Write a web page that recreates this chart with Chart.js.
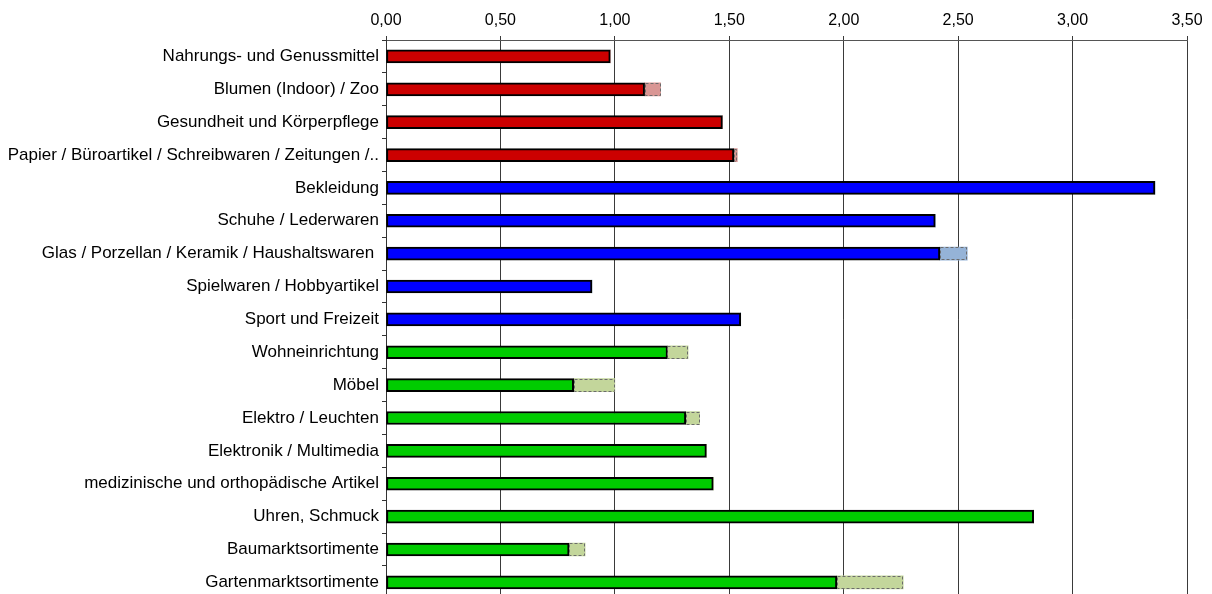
<!DOCTYPE html>
<html lang="de">
<head>
<meta charset="utf-8">
<title>Sortimente</title>
<script src="https://cdn.jsdelivr.net/npm/chart.js@4/dist/chart.umd.min.js"></script>
<style>
  html, body { margin: 0; padding: 0; background: #fff; overflow: hidden; }
  #wrap { width: 1212px; height: 612px; }
</style>
</head>
<body>
<div id="wrap"><canvas id="c" width="1212" height="612"></canvas></div>
<script>
// Sortimente (Reihenfolge von oben nach unten)
const categories = [
  'Nahrungs- und Genussmittel',
  'Blumen (Indoor) / Zoo',
  'Gesundheit und Körperpflege',
  'Papier / Büroartikel / Schreibwaren / Zeitungen /..',
  'Bekleidung',
  'Schuhe / Lederwaren',
  'Glas / Porzellan / Keramik / Haushaltswaren ',
  'Spielwaren / Hobbyartikel',
  'Sport und Freizeit',
  'Wohneinrichtung',
  'Möbel',
  'Elektro / Leuchten',
  'Elektronik / Multimedia',
  'medizinische und orthopädische Artikel',
  'Uhren, Schmuck',
  'Baumarktsortimente',
  'Gartenmarktsortimente'
];

// Hauptwert je Sortiment
const baseValues = [0.98, 1.13, 1.47, 1.52, 3.36, 2.40, 2.42, 0.90, 1.55,
                    1.23, 0.82, 1.31, 1.40, 1.43, 2.83, 0.80, 1.97];

// Zusätzlicher Spielraum (gestrichelt dargestellt)
const extraValues = [0, 0.07, 0, 0.015, 0, 0, 0.12, 0, 0,
                     0.09, 0.18, 0.06, 0, 0, 0, 0.07, 0.29];

// Gruppenzuordnung: 0 = rot, 1 = blau, 2 = grün
const groups = [0, 0, 0, 0, 1, 1, 1, 1, 1, 2, 2, 2, 2, 2, 2, 2, 2];

const tickLabels = ['0,00', '0,50', '1,00', '1,50', '2,00', '2,50', '3,00', '3,50'];

const mainColors  = ['#CC0000', '#0000FF', '#00CC00'];
const extraColors = ['#D99694', '#95B3D7', '#C3D69B'];

// Gestrichelter Rahmen für die Zusatzbalken
const dashedBorder = {
  id: 'dashedBorder',
  afterDatasetsDraw(chart) {
    const ctx = chart.ctx;
    const meta = chart.getDatasetMeta(1);
    ctx.save();
    ctx.setLineDash([3, 2]);
    ctx.lineWidth = 1;
    ctx.strokeStyle = '#6b6b6b';
    meta.data.forEach((el, i) => {
      if (!extraValues[i]) return;
      const p = el.getProps(['x', 'y', 'base', 'height'], true);
      const left = Math.min(p.x, p.base), right = Math.max(p.x, p.base);
      const top = p.y - p.height / 2;
      ctx.strokeRect(Math.round(left) + 0.5, Math.round(top) + 0.5,
                     Math.round(right - left) - 1, Math.round(p.height) - 1);
    });
    ctx.restore();
  }
};

new Chart(document.getElementById('c'), {
  type: 'bar',
  data: {
    labels: categories,
    datasets: [
      {
        data: baseValues,
        backgroundColor: groups.map(g => mainColors[g]),
        borderColor: '#000',
        borderWidth: 2,
        borderSkipped: false,
        barThickness: 13
      },
      {
        data: extraValues,
        backgroundColor: groups.map(g => extraColors[g]),
        borderWidth: 0,
        barThickness: 13
      }
    ]
  },
  options: {
    indexAxis: 'y',
    responsive: false,
    animation: false,
    devicePixelRatio: 1,
    layout: { padding: { top: 0, right: 25, bottom: 0, left: 0 } },
    plugins: { legend: { display: false }, tooltip: { enabled: false } },
    scales: {
      x: {
        position: 'top',
        stacked: true,
        min: 0,
        max: 3.5,
        afterFit(scale) { scale.height = 40; },
        afterBuildTicks(scale) {
          scale.ticks = tickLabels.map((t, i) => ({ value: i * 0.5 }));
        },
        ticks: {
          stepSize: 0.5,
          color: '#000',
          padding: 6,
          font: { family: '"Liberation Sans", Arial, sans-serif', size: 16 },
          callback: (v, i) => tickLabels[i]
        },
        grid: { color: '#3a3a3a', lineWidth: 1, tickLength: 4 },
        border: { color: '#555', width: 1 }
      },
      y: {
        stacked: true,
        afterFit(scale) { scale.width = 386; },
        ticks: {
          color: '#000',
          padding: 3,
          font: { family: '"Liberation Sans", Arial, sans-serif', size: 17 },
          autoSkip: false
        },
        grid: { offset: true, drawOnChartArea: false, tickLength: 4, color: '#333' },
        border: { color: '#333', width: 1 }
      }
    }
  },
  plugins: [dashedBorder]
});
</script>
</body>
</html>
